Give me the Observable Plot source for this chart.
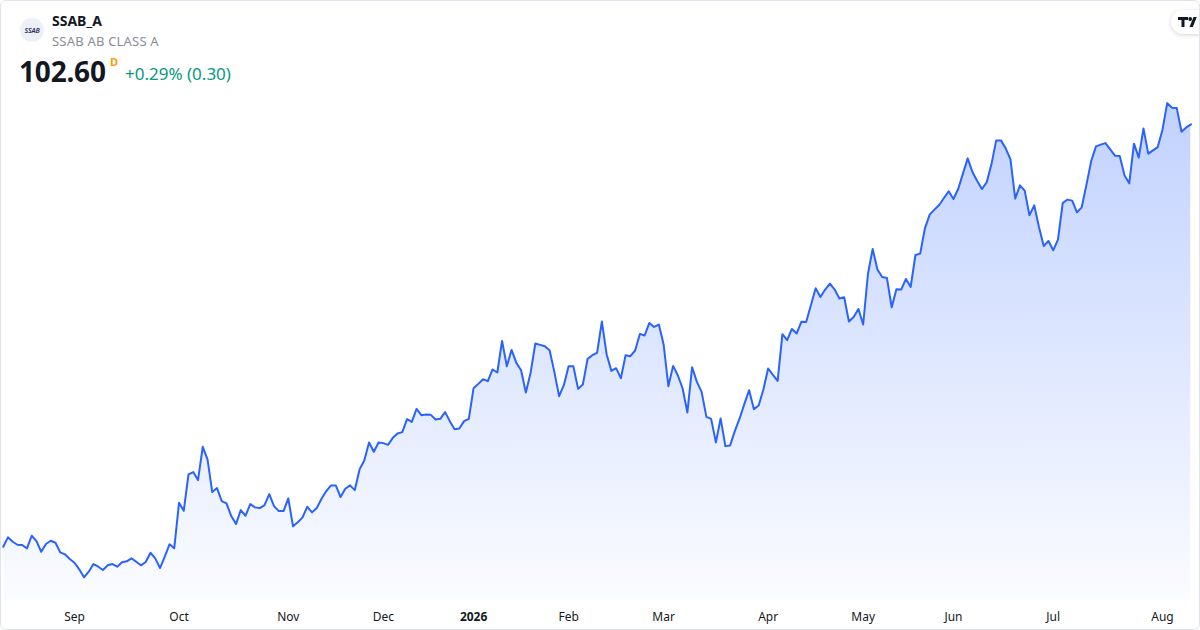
<!DOCTYPE html>
<html>
<head>
<meta charset="utf-8">
<script src="https://cdn.jsdelivr.net/npm/d3@7"></script>
<script src="https://cdn.jsdelivr.net/npm/@observablehq/plot@0.6"></script>
<style>
  html, body { margin: 0; padding: 0; background: #fff; }
  #card {
    position: relative; width: 1198px; height: 628px; overflow: hidden;
    border: 1px solid #e0e3eb; border-radius: 6px; background: #fff;
    font-family: "Noto Sans", "Open Sans", sans-serif; color: #131722;
  }
  #chart { position: absolute; left: -1px; top: -1px; }
  .hdr { position: absolute; white-space: nowrap; }
  #logo {
    position: absolute; left: 19px; top: 17px; width: 24px; height: 24px; border-radius: 50%;
    background: #eef0f8; display: flex; align-items: center; justify-content: center;
    font-size: 7px; font-style: italic; font-weight: 600; color: #2a3060; letter-spacing: -0.2px;
  }
  #sym { left: 51px; top: 10px; font-size: 14px; font-weight: 700; }
  #name { left: 51px; top: 31px; font-size: 13px; color: #8a8d96; letter-spacing: 0.2px; }
  #price { left: 18px; top: 51px; font-size: 28px; font-weight: 700; letter-spacing: -0.2px; }
  #dflag { left: 109px; top: 53px; font-size: 11px; font-weight: 700; color: #ff9800; }
  #chg { left: 124px; top: 61px; font-size: 17px; color: #089981; }
  #tv {
    position: absolute; left: 1170px; top: 9px; width: 40px; height: 24px; border-radius: 12px;
    background: #fff; box-shadow: 0 1px 4px rgba(0,0,0,0.18);
  }
</style>
</head>
<body>
<div id="card">
  <div id="chart"></div>
  <div id="logo">SSAB</div>
  <div class="hdr" id="sym">SSAB_A</div>
  <div class="hdr" id="name">SSAB AB CLASS A</div>
  <div class="hdr" id="price">102.60</div>
  <div class="hdr" id="dflag">D</div>
  <div class="hdr" id="chg">+0.29% (0.30)</div>
  <div id="tv">
    <svg width="40" height="24" viewBox="0 0 40 24">
      <path d="M7 7 h10 v3 h-3.5 v7 h-3 v-7 h-3.5 z" fill="#131722"/>
      <circle cx="19.2" cy="9" r="1.9" fill="#131722"/>
      <path d="M22.5 7 h3.3 l-4 10 h-3.3 z" fill="#131722"/>
    </svg>
  </div>
</div>
<script>
// Daily closes (trading-day index 0..250), Aug 2025 - Aug 2026
const closes = [
  60.33, 61.27, 60.83, 60.53, 60.50, 60.17, 61.43, 60.90, 59.83, 60.60,
  60.93, 60.73, 59.77, 59.57, 59.10, 58.73, 58.07, 57.27, 57.83, 58.60,
  58.33, 58.00, 58.47, 58.60, 58.33, 58.77, 58.87, 59.17, 58.83, 58.47,
  58.80, 59.73, 59.17, 58.20, 59.33, 60.57, 60.17, 64.73, 63.93, 67.57,
  67.80, 67.00, 70.33, 69.07, 65.80, 66.20, 64.90, 64.67, 63.40, 62.60,
  64.00, 63.43, 64.60, 64.27, 64.20, 64.50, 65.60, 64.40, 63.90, 63.90,
  65.17, 62.37, 62.77, 63.27, 64.33, 63.77, 64.20, 65.13, 65.90, 66.47,
  66.47, 65.30, 66.13, 66.47, 66.00, 68.07, 68.97, 70.77, 69.83, 70.77,
  70.70, 70.53, 71.23, 71.67, 71.80, 73.10, 72.83, 74.13, 73.50, 73.57,
  73.53, 73.07, 73.13, 73.80, 72.90, 72.10, 72.17, 72.90, 73.13, 76.20,
  76.63, 77.10, 76.90, 78.07, 77.77, 80.93, 78.40, 80.03, 78.73, 78.00,
  75.77, 77.73, 80.67, 80.53, 80.40, 80.00, 77.83, 75.40, 76.50, 78.40,
  78.40, 76.13, 76.57, 79.13, 79.50, 79.73, 82.87, 79.60, 77.93, 78.20,
  77.20, 79.50, 79.40, 79.97, 81.63, 81.47, 82.73, 82.33, 82.57, 80.57,
  76.40, 78.43, 77.47, 76.17, 73.77, 78.30, 76.83, 75.83, 73.33, 73.13,
  70.77, 73.17, 70.40, 70.47, 71.93, 73.17, 74.63, 76.00, 74.10, 74.47,
  76.07, 78.17, 77.53, 76.93, 81.60, 81.00, 82.13, 81.67, 82.85, 82.82,
  84.50, 86.20, 85.33, 86.07, 86.67, 86.07, 85.17, 85.30, 82.87, 83.33,
  84.13, 82.57, 87.60, 90.13, 88.07, 87.33, 87.23, 84.30, 86.10, 86.07,
  87.13, 86.33, 89.53, 89.67, 92.20, 93.57, 94.07, 94.53, 95.23, 95.90,
  95.13, 96.13, 97.67, 99.20, 97.83, 96.93, 96.13, 96.80, 98.60, 101.00,
  101.00, 100.20, 99.10, 95.17, 96.50, 95.97, 93.50, 94.50, 92.33, 90.43,
  90.93, 90.00, 91.07, 94.73, 95.07, 94.97, 93.80, 94.30, 96.57, 98.93,
  100.40, 100.57, 100.73, 100.10, 99.47, 99.43, 97.50, 96.70, 100.67, 99.27,
  102.20, 99.67, 100.00, 100.33, 102.07, 104.73, 104.27, 104.23, 101.87, 102.30,
  102.60
];
// Month labels and the trading-day index where each month starts
const tickIndex = [15, 37, 60, 80, 99, 119, 139, 161, 181, 200, 221, 244];
const tickLabel = ["Sep", "Oct", "Nov", "Dec", "2026", "Feb", "Mar", "Apr", "May", "Jun", "Jul", "Aug"];
const tickIsYear = [false, false, false, false, true, false, false, false, false, false, false, false];

const data = closes.map((c, i) => ({i, c}));
const ticks = tickIndex.map((t, k) => ({t, label: tickLabel[k], year: tickIsYear[k]}));

const plot = Plot.plot({
  width: 1200,
  height: 630,
  marginLeft: 2.7,
  marginRight: 8.5,
  marginTop: 0,
  marginBottom: 30,
  style: {fontFamily: '"Noto Sans", "Open Sans", sans-serif', background: "transparent"},
  x: {domain: [0, closes.length - 1], axis: null},
  y: {domain: [55, 115], axis: null},
  marks: [
    Plot.areaY(data, {x: "i", y1: 0, y2: "c", fill: "url(#areaGrad)", clip: true}),
    Plot.lineY(data, {x: "i", y: "c", stroke: "#2962ff", strokeWidth: 2, strokeLinejoin: "round"}),
    Plot.text(ticks.filter(d => !d.year), {x: "t", text: "label", frameAnchor: "bottom", dy: 17, fontSize: 12, fill: "#131722", lineAnchor: "middle"}),
    Plot.text(ticks.filter(d => d.year), {x: "t", text: "label", frameAnchor: "bottom", dy: 17, fontSize: 12, fontWeight: 700, fill: "#131722", lineAnchor: "middle"})
  ]
});

const ns = "http://www.w3.org/2000/svg";
const defs = document.createElementNS(ns, "defs");
const grad = document.createElementNS(ns, "linearGradient");
grad.setAttribute("id", "areaGrad");
grad.setAttribute("gradientUnits", "userSpaceOnUse");
grad.setAttribute("x1", "0"); grad.setAttribute("x2", "0");
grad.setAttribute("y1", "100"); grad.setAttribute("y2", "600");
[["0", "0.29"], ["1", "0.02"]].forEach(([o, a]) => {
  const s = document.createElementNS(ns, "stop");
  s.setAttribute("offset", o);
  s.setAttribute("stop-color", "#2962ff");
  s.setAttribute("stop-opacity", a);
  grad.appendChild(s);
});
defs.appendChild(grad);
plot.insertBefore(defs, plot.firstChild);
document.getElementById("chart").appendChild(plot);
</script>
</body>
</html>
